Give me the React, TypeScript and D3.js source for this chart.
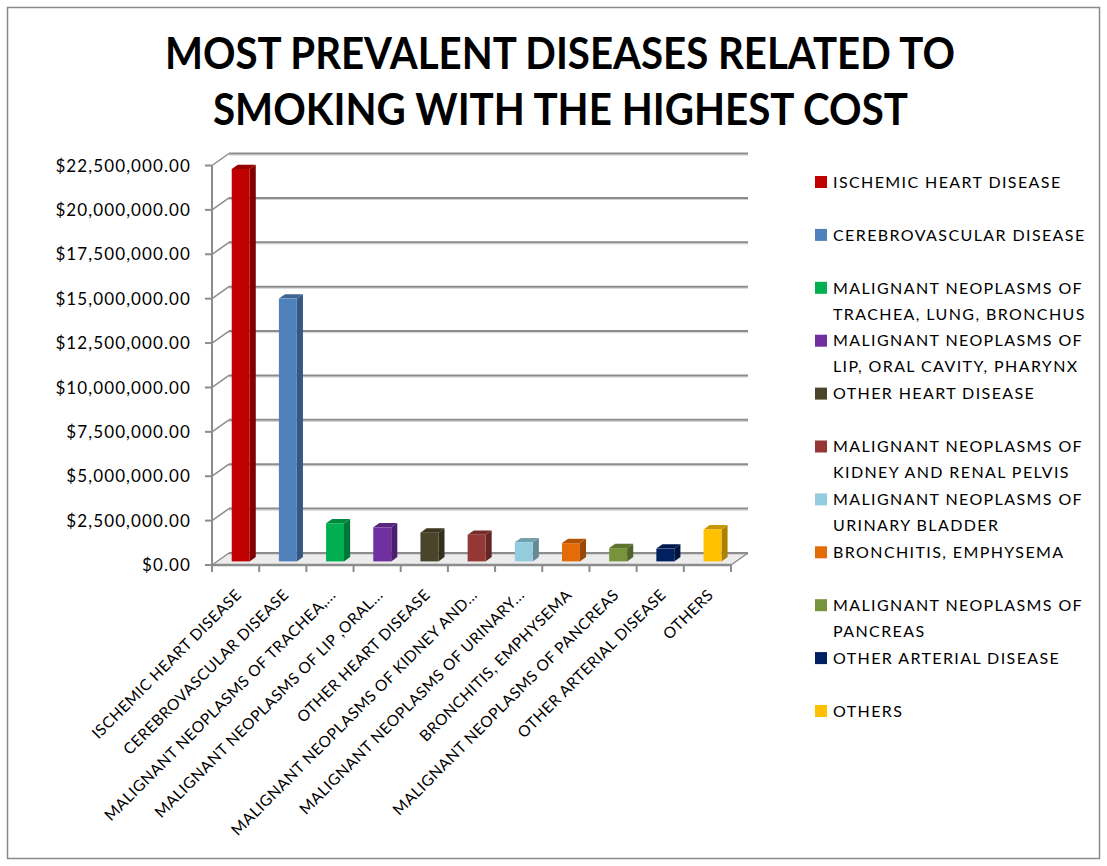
import React from "react";
import * as d3 from "d3";

const categories = [
  "ISCHEMIC HEART DISEASE",
  "CEREBROVASCULAR DISEASE",
  "MALIGNANT NEOPLASMS OF TRACHEA,...",
  "MALIGNANT NEOPLASMS OF LIP ,ORAL...",
  "OTHER HEART DISEASE",
  "MALIGNANT NEOPLASMS OF KIDNEY AND...",
  "MALIGNANT NEOPLASMS OF URINARY...",
  "BRONCHITIS, EMPHYSEMA",
  "MALIGNANT NEOPLASMS OF PANCREAS",
  "OTHER ARTERIAL DISEASE",
  "OTHERS",
];

const legendLabels: string[][] = [
  ["ISCHEMIC HEART DISEASE"],
  ["CEREBROVASCULAR DISEASE"],
  ["MALIGNANT NEOPLASMS OF", "TRACHEA, LUNG, BRONCHUS"],
  ["MALIGNANT NEOPLASMS OF", "LIP, ORAL CAVITY, PHARYNX"],
  ["OTHER HEART DISEASE"],
  ["MALIGNANT NEOPLASMS OF", "KIDNEY AND RENAL PELVIS"],
  ["MALIGNANT NEOPLASMS OF", "URINARY BLADDER"],
  ["BRONCHITIS, EMPHYSEMA"],
  ["MALIGNANT NEOPLASMS OF", "PANCREAS"],
  ["OTHER ARTERIAL DISEASE"],
  ["OTHERS"],
];

const values = [
  22100000, 14800000, 2150000, 1920000, 1620000, 1500000, 1080000, 1030000,
  750000, 720000, 1800000,
];

const colors = [
  "#C00000",
  "#4F81BD",
  "#00B050",
  "#7030A0",
  "#4A452A",
  "#953735",
  "#93CDDD",
  "#E36C09",
  "#77933C",
  "#002060",
  "#FFC000",
];

const yTicks = [0, 2500000, 5000000, 7500000, 10000000, 12500000, 15000000, 17500000, 20000000, 22500000];

const titleLines = ["MOST PREVALENT DISEASES RELATED TO", "SMOKING WITH THE HIGHEST COST"];

const W = 1107;
const H = 866;
const X0 = 212;
const X1 = 731;
const Y0 = 565;
const Y1 = 165.5;
const DX = 17;
const DY = -12;
const FONT = "Lato, 'Open Sans', sans-serif";

export default function App() {
  const x = d3.scaleBand<string>().domain(categories).range([X0, X1]).paddingInner(0).paddingOuter(0);
  const y = d3.scaleLinear().domain([0, 22500000]).range([Y0, Y1]);
  const bw = x.bandwidth();
  const fmt = (v: number) => "$" + d3.format(",.2f")(v);

  const f0 = 0.3;
  const fd = 0.36;
  const barW = bw * 0.38;

  const legendY = d3.scaleLinear().domain([0, 10]).range([182, 711]);

  return (
    <svg
      width={W}
      height={H}
      style={{ position: "absolute", left: 0, top: 0, background: "#fff" }}
      xmlns="http://www.w3.org/2000/svg"
    >
      <rect x={0} y={0} width={W} height={H} fill="#fff" />
      <rect x={7.5} y={7.5} width={1092} height={851} fill="none" stroke="#8a8a8a" strokeWidth={1.5} />

      {/* Title */}
      <g fontFamily={FONT} fontWeight={700} fontSize={43} fill="#000" textAnchor="middle">
        <text x={560} y={69} textLength={790} lengthAdjust="spacingAndGlyphs">
          {titleLines[0]}
        </text>
        <text x={560.5} y={125} textLength={695} lengthAdjust="spacingAndGlyphs">
          {titleLines[1]}
        </text>
      </g>

      {/* Floor */}
      <polygon
        points={`${X0},${Y0} ${X1},${Y0} ${X1 + DX},${Y0 + DY} ${X0 + DX},${Y0 + DY}`}
        fill="#ececec"
        stroke="none"
      />

      {/* Back wall gridlines */}
      {yTicks.map((t) => (
        <g key={"g" + t}>
          <line x1={X0 + DX} x2={X1 + DX} y1={y(t) + DY + 1.6} y2={y(t) + DY + 1.6} stroke="#d2d2d2" strokeWidth={1} />
          <line x1={X0 + DX} x2={X1 + DX} y1={y(t) + DY} y2={y(t) + DY} stroke="#8c8c8c" strokeWidth={2} />
          <line x1={X0} x2={X0 + DX} y1={y(t)} y2={y(t) + DY} stroke="#8c8c8c" strokeWidth={1.5} />
          <line x1={X0 - 7} x2={X0} y1={y(t)} y2={y(t)} stroke="#8c8c8c" strokeWidth={2} />
        </g>
      ))}

      {/* Y axis */}
      <line x1={X0} x2={X0} y1={Y1} y2={Y0} stroke="#8c8c8c" strokeWidth={2} />

      {/* Floor front edge + right edge + ticks */}
      <line x1={X0} x2={X1} y1={Y0} y2={Y0} stroke="#8c8c8c" strokeWidth={2.5} />
      <line x1={X1} x2={X1 + DX} y1={Y0} y2={Y0 + DY} stroke="#8c8c8c" strokeWidth={1.5} />
      {categories.map((c) => (
        <line key={"t" + c} x1={x(c)!} x2={x(c)!} y1={Y0} y2={Y0 + 7} stroke="#8c8c8c" strokeWidth={2} />
      ))}
      <line x1={X1} x2={X1} y1={Y0} y2={Y0 + 7} stroke="#8c8c8c" strokeWidth={2} />

      {/* Bars */}
      {categories.map((c, i) => {
        const col = d3.color(colors[i])!;
        const side = col.darker(1.1).formatHex();
        const top = col.darker(0.7).formatHex();
        const bx0 = x(c)! + bw / 2 - barW / 2 + f0 * DX;
        const bx1 = bx0 + barW;
        const base = y(0) + f0 * DY;
        const ty = y(values[i]) + f0 * DY;
        const sdx = fd * DX;
        const sdy = fd * DY;
        return (
          <g key={"b" + c}>
            <polygon
              points={`${bx1},${ty} ${bx1 + sdx},${ty + sdy} ${bx1 + sdx},${base + sdy} ${bx1},${base}`}
              fill={side}
            />
            <polygon
              points={`${bx0},${ty} ${bx1},${ty} ${bx1 + sdx},${ty + sdy} ${bx0 + sdx},${ty + sdy}`}
              fill={top}
            />
            <rect x={bx0} y={ty} width={barW} height={base - ty} fill={colors[i]} />
          </g>
        );
      })}

      {/* Y tick labels */}
      <g fontFamily={FONT} fontSize={17} fill="#000" textAnchor="end">
        {yTicks.map((t) => (
          <text key={"yl" + t} x={191} y={y(t)} dy="0.36em" letterSpacing={1.1}>
            {fmt(t)}
          </text>
        ))}
      </g>

      {/* X labels */}
      <g fontFamily={FONT} fontSize={15.5} fill="#000" textAnchor="end">
        {categories.map((c) => {
          const px = x(c)! + bw / 2 + 3;
          const py = 592;
          return (
            <text key={"xl" + c} x={px} y={py} transform={`rotate(-45 ${px} ${py})`} dy="0.35em" letterSpacing={0.55}>
              {c}
            </text>
          );
        })}
      </g>

      {/* Legend */}
      <g fontFamily={FONT} fontSize={16} fill="#000">
        {legendLabels.map((lines, i) => {
          const ly = legendY(i);
          return (
            <g key={"lg" + i}>
              <rect x={815} y={ly - 6} width={12} height={12} fill={colors[i]} />
              {lines.map((ln, j) => (
                <text key={j} x={833} y={ly + j * 26} dy="0.36em" letterSpacing={1.4}>
                  {ln}
                </text>
              ))}
            </g>
          );
        })}
      </g>
    </svg>
  );
}
